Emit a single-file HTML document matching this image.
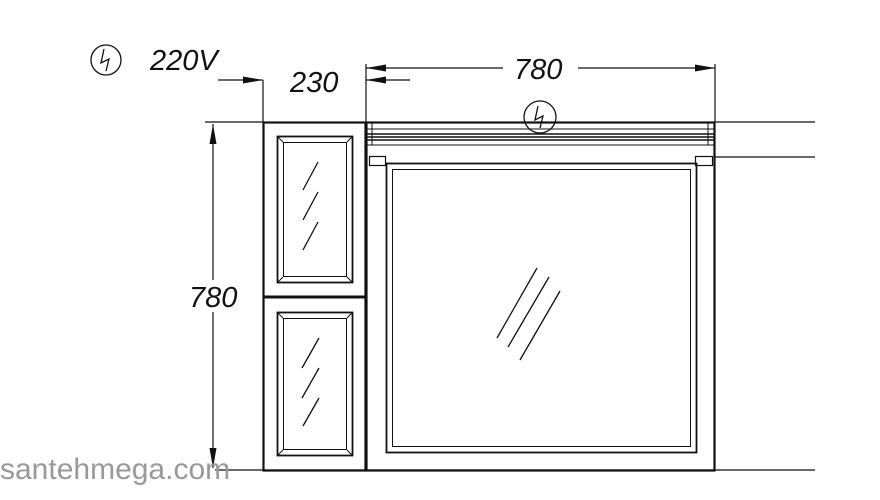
<!DOCTYPE html>
<html><head><meta charset="utf-8"><style>
html,body{margin:0;padding:0;background:#fff;width:880px;height:500px;overflow:hidden}
svg{display:block}
text{font-family:"Liberation Sans",sans-serif;font-style:italic;fill:#111}
</style></head><body>
<svg width="880" height="500" viewBox="0 0 880 500" xmlns="http://www.w3.org/2000/svg">
<defs>
<marker id="b" viewBox="0 0 20 7" refX="20" refY="3.5" markerWidth="20" markerHeight="7" orient="auto-start-reverse" markerUnits="userSpaceOnUse"><path d="M0,0 L20,3.5 L0,7z" fill="#111"/></marker>
</defs>
<g stroke="#111" fill="none">
<line x1="205" y1="122" x2="263" y2="122" stroke-width="1.2"/>
<line x1="715" y1="122" x2="815" y2="122" stroke-width="1.2"/>
<line x1="715" y1="157" x2="815" y2="157" stroke-width="1.2"/>
<line x1="215" y1="470" x2="815" y2="470" stroke-width="1.2"/>
<line x1="263" y1="80" x2="263" y2="122" stroke-width="1.2"/>
<line x1="366" y1="64" x2="366" y2="122" stroke-width="1.2"/>
<line x1="715" y1="64" x2="715" y2="122" stroke-width="1.2"/>
<line x1="213" y1="124" x2="213" y2="468" stroke-width="1.2" marker-start="url(#b)" marker-end="url(#b)"/>
<line x1="218" y1="80" x2="263" y2="80" stroke-width="1.2" marker-end="url(#b)"/>
<line x1="410" y1="80" x2="366" y2="80" stroke-width="1.2" marker-end="url(#b)"/>
<line x1="366" y1="68" x2="503" y2="68" stroke-width="1.2" marker-start="url(#b)"/>
<line x1="578" y1="68" x2="715" y2="68" stroke-width="1.2" marker-end="url(#b)"/>
<rect x="263.5" y="122.5" width="102" height="348" stroke-width="2.2"/>
<line x1="263" y1="297" x2="366" y2="297" stroke-width="3"/>
<rect x="277.5" y="136.5" width="75" height="146" stroke-width="1.8"/>
<rect x="283.5" y="142.5" width="63" height="134" stroke-width="1"/>
<line x1="277" y1="136" x2="283" y2="142" stroke-width="1"/><line x1="353" y1="136" x2="347" y2="142" stroke-width="1"/>
<line x1="277" y1="283" x2="283" y2="277" stroke-width="1"/><line x1="353" y1="283" x2="347" y2="277" stroke-width="1"/>
<rect x="277.5" y="312.5" width="75" height="143" stroke-width="1.8"/>
<rect x="283.5" y="318.5" width="63" height="131" stroke-width="1"/>
<line x1="277" y1="312" x2="283" y2="318" stroke-width="1"/><line x1="353" y1="312" x2="347" y2="318" stroke-width="1"/>
<line x1="277" y1="456" x2="283" y2="450" stroke-width="1"/><line x1="353" y1="456" x2="347" y2="450" stroke-width="1"/>
<g stroke-width="1.3">
<line x1="318" y1="162" x2="303" y2="190"/><line x1="318" y1="192" x2="303" y2="220"/><line x1="318" y1="222" x2="303" y2="250"/>
<line x1="319" y1="338" x2="302" y2="368"/><line x1="319" y1="368" x2="302" y2="398"/><line x1="319" y1="398" x2="303" y2="426"/>
</g>
<rect x="366.5" y="122.5" width="348" height="348" stroke-width="2.2"/>
<line x1="366" y1="129" x2="715" y2="129" stroke-width="1"/>
<line x1="366" y1="134" x2="715" y2="134" stroke-width="1.5"/>
<line x1="366" y1="137" x2="715" y2="137" stroke-width="1.5"/>
<line x1="366" y1="140" x2="715" y2="140" stroke-width="1.5"/>
<line x1="366" y1="145" x2="715" y2="145" stroke-width="1"/>
<line x1="372" y1="122" x2="372" y2="145" stroke-width="1"/><line x1="708" y1="122" x2="708" y2="145" stroke-width="1"/>
<rect x="369.5" y="156.5" width="16" height="9" stroke-width="1.2"/>
<rect x="695.5" y="156.5" width="17" height="9" stroke-width="1.2"/>
<rect x="386.5" y="163.5" width="310" height="289" stroke-width="1.8"/>
<rect x="392.5" y="169.5" width="298" height="277" stroke-width="1"/>
<g stroke-width="1.3">
<line x1="537" y1="268" x2="497" y2="338"/><line x1="549" y1="277" x2="508" y2="347"/><line x1="560" y1="291" x2="520" y2="360"/>
</g>
<circle cx="106" cy="60" r="15" stroke-width="1.3"/>
<path d="M104,49 L101,63 L109,59 L106,71" stroke-width="1.3"/>
<circle cx="540" cy="117" r="16" stroke-width="1.3"/>
<path d="M538,106 L535,120 L543,116 L540,128" stroke-width="1.3"/>
</g>
<rect x="188" y="280" width="54" height="32" fill="#fff"/>
<text x="150" y="70" font-size="29">220V</text>
<text x="290" y="92" font-size="29">230</text>
<text x="514" y="79" font-size="29">780</text>
<text x="189" y="307" font-size="29">780</text>
<text x="0" y="479" font-size="30" style="font-style:normal;fill:#999">santehmega.com</text>
</svg>
</body></html>
